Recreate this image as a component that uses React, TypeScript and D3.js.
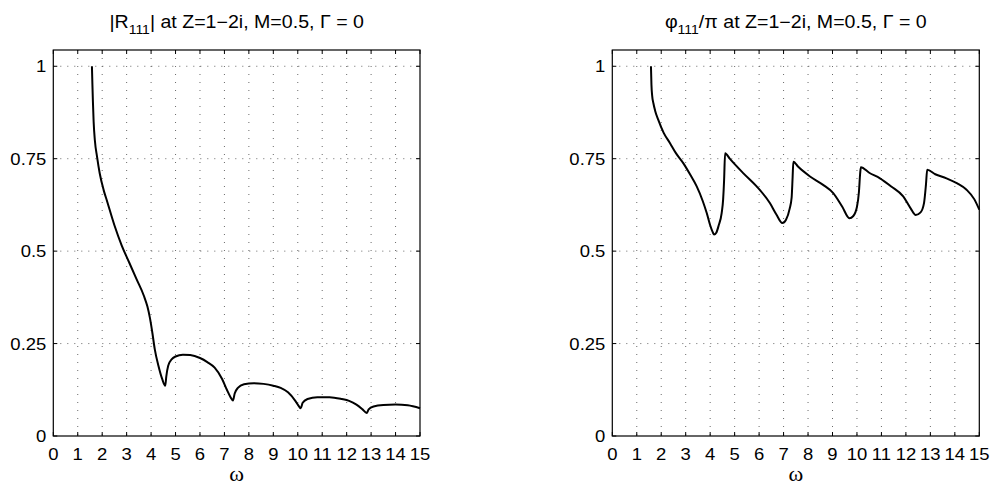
import React from "react";
import * as d3 from "d3";

const xTicks = d3.range(0, 16);
const yTicks = [0, 0.25, 0.5, 0.75, 1];
const yTickLabels = ["0", "0.25", "0.5", "0.75", "1"];

const omegaR = [1.58, 1.6, 1.62, 1.65, 1.7, 1.79, 1.9, 2.06, 2.2, 2.5, 2.8, 3.1, 3.4, 3.7, 3.85, 3.95, 4.05, 4.15, 4.3, 4.45, 4.58, 4.62, 4.7, 4.85, 5.0, 5.3, 5.6, 6.0, 6.3, 6.6, 6.9, 7.1, 7.25, 7.35, 7.42, 7.55, 7.8, 8.2, 8.6, 9.0, 9.3, 9.6, 9.9, 10.05, 10.12, 10.2, 10.4, 10.8, 11.3, 11.8, 12.1, 12.4, 12.65, 12.82, 12.9, 13.1, 13.5, 14.0, 14.5, 15.0];
const valuesR = [1.0, 0.95, 0.905, 0.85, 0.8, 0.755, 0.71, 0.665, 0.635, 0.57, 0.515, 0.47, 0.425, 0.38, 0.35, 0.32, 0.28, 0.235, 0.19, 0.155, 0.136, 0.16, 0.19, 0.208, 0.215, 0.22, 0.219, 0.211, 0.2, 0.185, 0.155, 0.125, 0.105, 0.096, 0.115, 0.13, 0.14, 0.143, 0.141, 0.136, 0.13, 0.118, 0.095, 0.08, 0.075, 0.09, 0.1, 0.105, 0.105, 0.1, 0.095, 0.085, 0.072, 0.062, 0.072, 0.08, 0.084, 0.085, 0.083, 0.075];

const omegaP = [1.58, 1.6, 1.63, 1.68, 1.75, 1.88, 2.1, 2.36, 2.6, 2.9, 3.2, 3.45, 3.7, 3.86, 4.0, 4.1, 4.16, 4.25, 4.35, 4.47, 4.53, 4.57, 4.61, 4.8, 5.35, 5.9, 6.44, 6.7, 6.95, 7.1, 7.25, 7.33, 7.37, 7.4, 7.6, 8.08, 8.6, 9.03, 9.4, 9.69, 9.85, 10.0, 10.08, 10.13, 10.16, 10.5, 10.94, 11.4, 11.89, 12.2, 12.4, 12.6, 12.74, 12.82, 12.87, 13.2, 13.66, 14.1, 14.48, 14.8, 15.0];
const valuesP = [1.0, 0.95, 0.92, 0.9, 0.88, 0.855, 0.82, 0.792, 0.765, 0.738, 0.705, 0.675, 0.635, 0.603, 0.57, 0.552, 0.545, 0.55, 0.57, 0.603, 0.64, 0.693, 0.765, 0.75, 0.711, 0.675, 0.63, 0.6, 0.576, 0.585, 0.615, 0.645, 0.7, 0.742, 0.728, 0.702, 0.68, 0.657, 0.62, 0.589, 0.595, 0.62, 0.66, 0.71, 0.727, 0.712, 0.697, 0.675, 0.648, 0.615, 0.598, 0.605, 0.63, 0.68, 0.72, 0.708, 0.697, 0.683, 0.666, 0.64, 0.612];

const W = 994;
const H = 489;
const SANS = "Liberation Sans, Arial, Helvetica, sans-serif";

function T({ x, y, size, anchor, dy, family, children }: { x: number; y: number; size: number; anchor: string; dy?: string; family?: string; children: React.ReactNode }) {
  return (
    <text transform={`translate(${x},${y}) scale(1.12,1)`} textAnchor={anchor} dy={dy} fontSize={size} fontFamily={family || SANS} fill="#000">
      {children}
    </text>
  );
}

function Panel({ x0, x1, omega, values, title }: { x0: number; x1: number; omega: number[]; values: number[]; title: React.ReactNode }) {
  const top = 50;
  const bottom = 436;
  const x = d3.scaleLinear().domain([0, 15]).range([x0, x1]);
  const y = d3.scaleLinear().domain([0, 1.044]).range([bottom, top]);
  const pts = omega.map((w, i) => [w, values[i]] as [number, number]);
  const line = d3.line<[number, number]>().x(d => x(d[0])).y(d => y(d[1])).curve(d3.curveMonotoneX);
  const cx = (x0 + x1) / 2;
  return (
    <g>
      {xTicks.slice(1, -1).map(t => (
        <line key={"gx" + t} x1={x(t)} x2={x(t)} y1={top} y2={bottom} stroke="#444" strokeWidth={0.8} strokeDasharray="1 7" />
      ))}
      {yTicks.slice(1).map(t => (
        <line key={"gy" + t} x1={x0} x2={x1} y1={y(t)} y2={y(t)} stroke="#444" strokeWidth={0.8} strokeDasharray="1 6" />
      ))}
      {xTicks.map(t => (
        <g key={"tx" + t}>
          <line x1={x(t)} x2={x(t)} y1={bottom} y2={bottom - 4} stroke="#000" />
          <line x1={x(t)} x2={x(t)} y1={top} y2={top + 4} stroke="#000" />
          <T x={x(t)} y={460} size={16.5} anchor="middle">{t}</T>
        </g>
      ))}
      {yTicks.map((t, i) => (
        <g key={"ty" + t}>
          <line x1={x0} x2={x0 + 4} y1={y(t)} y2={y(t)} stroke="#000" />
          <line x1={x1} x2={x1 - 4} y1={y(t)} y2={y(t)} stroke="#000" />
          <T x={x0 - 7} y={y(t)} dy="0.36em" size={16.5} anchor="end">{yTickLabels[i]}</T>
        </g>
      ))}
      <rect x={x0} y={top} width={x1 - x0} height={bottom - top} fill="none" stroke="#000" strokeWidth={1.2} />
      <path d={line(pts) || ""} fill="none" stroke="#000" strokeWidth={2} />
      <T x={cx} y={28} size={17.5} anchor="middle">{title}</T>
      <T x={cx} y={481} size={20} anchor="middle" family="Liberation Serif, Times New Roman, serif">ω</T>
    </g>
  );
}

export default function App() {
  return (
    <svg width={W} height={H} style={{ position: "absolute", left: 0, top: 0, background: "#fff" }}>
      <rect width={W} height={H} fill="#fff" />
      <Panel
        x0={53.3}
        x1={420}
        omega={omegaR}
        values={valuesR}
        title={<>|R<tspan fontSize={12.5} dy={6}>111</tspan><tspan dy={-6}>| at Z=1−2i, M=0.5, Γ = 0</tspan></>}
      />
      <Panel
        x0={612.3}
        x1={979.3}
        omega={omegaP}
        values={valuesP}
        title={<>φ<tspan fontSize={12.5} dy={6}>111</tspan><tspan dy={-6}>/π at Z=1−2i, M=0.5, Γ = 0</tspan></>}
      />
    </svg>
  );
}
